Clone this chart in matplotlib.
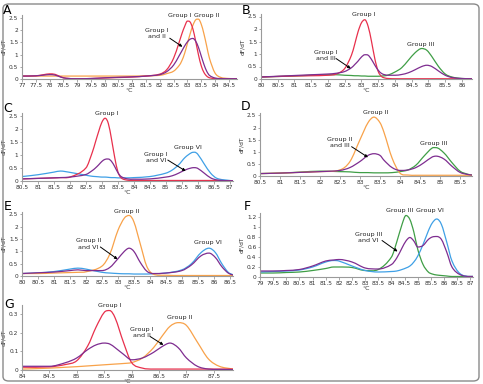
import matplotlib
matplotlib.use("Agg")
import matplotlib.pyplot as plt
from matplotlib.patches import FancyBboxPatch, PathPatch
from matplotlib.path import Path

# ---------------- data ----------------
# Panel A
a_x = [77, 77.5, 77.8, 78.0, 78.2, 78.4, 78.6, 79, 79.5, 80, 80.5, 81, 81.5, 82, 82.25, 82.5,
       82.7, 82.8, 82.9, 83.0, 83.1, 83.2, 83.3, 83.4, 83.5, 83.6, 83.7, 83.8, 84.0, 84.2, 84.5, 84.8]
a_red = [0.12, 0.13, 0.18, 0.21, 0.19, 0.09, 0.03, 0.01, 0.02, 0.04, 0.06, 0.08, 0.12, 0.2, 0.38, 0.85,
         1.5, 1.85, 2.15, 2.37, 2.33, 2.05, 1.55, 1.0, 0.55, 0.27, 0.12, 0.05, 0.02, 0.01, 0.01, 0.01]
a_orange = [0.12, 0.12, 0.12, 0.12, 0.12, 0.12, 0.12, 0.12, 0.12, 0.12, 0.12, 0.12, 0.13, 0.15, 0.22, 0.32,
            0.55, 0.75, 1.05, 1.45, 1.85, 2.2, 2.42, 2.45, 2.25, 1.85, 1.35, 0.85, 0.25, 0.07, 0.02, 0.01]
a_purple = [0.12, 0.13, 0.16, 0.18, 0.16, 0.08, 0.03, 0.01, 0.02, 0.05, 0.07, 0.09, 0.12, 0.18, 0.3, 0.57,
            0.95, 1.15, 1.35, 1.52, 1.63, 1.66, 1.55, 1.3, 0.95, 0.6, 0.32, 0.15, 0.04, 0.02, 0.01, 0.01]

# Panel B
b_x = [80, 80.5, 81, 81.5, 82, 82.25, 82.5, 82.7, 82.8, 82.9, 83.0, 83.1, 83.2, 83.3, 83.4, 83.5, 83.6,
       83.7, 83.8, 84.0, 84.2, 84.4, 84.6, 84.8, 84.95, 85.1, 85.3, 85.5, 85.7, 86.0, 86.3]
b_red = [0.08, 0.10, 0.12, 0.13, 0.15, 0.20, 0.42, 0.95, 1.40, 1.90, 2.25, 2.37, 2.10, 1.50, 0.80, 0.30, 0.10,
         0.04, 0.02, 0.01, 0.01, 0.01, 0.01, 0.01, 0.01, 0.01, 0.01, 0.01, 0.01, 0.01, 0.01]
b_purple = [0.08, 0.11, 0.14, 0.17, 0.20, 0.23, 0.30, 0.45, 0.58, 0.72, 0.88, 0.97, 0.95, 0.78, 0.55, 0.35, 0.22,
            0.17, 0.15, 0.15, 0.18, 0.25, 0.37, 0.50, 0.55, 0.50, 0.32, 0.15, 0.06, 0.02, 0.01]
b_green = [0.08, 0.10, 0.12, 0.15, 0.17, 0.17, 0.15, 0.14, 0.13, 0.13, 0.12, 0.12, 0.11, 0.11, 0.11, 0.11, 0.12,
           0.13, 0.16, 0.28, 0.45, 0.75, 1.05, 1.22, 1.15, 0.90, 0.50, 0.20, 0.08, 0.02, 0.01]

# Panel C
c_x = [80.5, 81, 81.5, 81.7, 82, 82.5, 82.7, 82.8, 82.9, 83.0, 83.1, 83.2, 83.3, 83.4, 83.5, 83.6, 83.8, 84,
       84.5, 85, 85.2, 85.4, 85.6, 85.8, 85.9, 86.0, 86.2, 86.4, 86.6, 87, 87.1]
c_red = [0.08, 0.1, 0.12, 0.13, 0.15, 0.5, 1.1, 1.5, 1.9, 2.25, 2.4, 2.2, 1.6, 0.9, 0.35, 0.12, 0.03, 0.02,
         0.02, 0.02, 0.02, 0.02, 0.02, 0.02, 0.02, 0.02, 0.02, 0.02, 0.02, 0.01, 0.01]
c_purple = [0.08, 0.1, 0.12, 0.13, 0.15, 0.25, 0.4, 0.5, 0.62, 0.75, 0.83, 0.84, 0.75, 0.55, 0.32, 0.17, 0.08, 0.07,
            0.08, 0.15, 0.2, 0.3, 0.42, 0.5, 0.51, 0.48, 0.3, 0.12, 0.04, 0.01, 0.01]
c_blue = [0.17, 0.24, 0.34, 0.38, 0.33, 0.22, 0.18, 0.17, 0.16, 0.15, 0.15, 0.14, 0.13, 0.13, 0.12, 0.12, 0.12, 0.13,
          0.17, 0.3, 0.42, 0.62, 0.9, 1.08, 1.1, 1.02, 0.65, 0.3, 0.1, 0.02, 0.01]

# Panel D
d_x = [80.5, 81, 81.5, 82, 82.5, 82.75, 83, 83.2, 83.35, 83.5, 83.6, 83.8, 84, 84.2, 84.4, 84.6, 84.8, 84.9,
       85.1, 85.3, 85.5, 85.7, 85.8]
d_orange = [0.1, 0.12, 0.15, 0.18, 0.25, 0.6, 1.5, 2.2, 2.43, 2.2, 1.8, 0.75, 0.12, 0.04, 0.03, 0.03, 0.03, 0.03,
            0.03, 0.03, 0.03, 0.03, 0.03]
d_purple = [0.1, 0.12, 0.15, 0.18, 0.23, 0.35, 0.6, 0.85, 0.92, 0.85, 0.65, 0.35, 0.23, 0.25, 0.35, 0.55, 0.78, 0.82,
            0.7, 0.4, 0.15, 0.06, 0.04]
d_green = [0.1, 0.12, 0.16, 0.2, 0.18, 0.17, 0.14, 0.14, 0.13, 0.13, 0.13, 0.14, 0.18, 0.25, 0.45, 0.82, 1.15, 1.17,
           0.95, 0.55, 0.2, 0.07, 0.04]

# Panel E
e_x = [80, 80.5, 81, 81.5, 81.75, 82, 82.5, 82.75, 83, 83.2, 83.35, 83.5, 83.7, 83.9, 84.1, 84.5, 85, 85.3,
       85.6, 85.85, 86.05, 86.25, 86.45, 86.6]
e_orange = [0.1, 0.1, 0.12, 0.14, 0.15, 0.17, 0.4, 0.9, 1.85, 2.35, 2.46, 2.2, 1.3, 0.4, 0.08, 0.03, 0.02, 0.02,
            0.02, 0.02, 0.02, 0.02, 0.02, 0.02]
e_purple = [0.1, 0.13, 0.16, 0.22, 0.25, 0.22, 0.22, 0.35, 0.7, 1.0, 1.13, 1.0, 0.55, 0.2, 0.1, 0.12, 0.22, 0.45,
            0.82, 0.93, 0.75, 0.38, 0.12, 0.04]
e_blue = [0.1, 0.13, 0.18, 0.28, 0.32, 0.28, 0.15, 0.12, 0.1, 0.09, 0.09, 0.08, 0.08, 0.08, 0.09, 0.12, 0.25, 0.5,
          0.95, 1.13, 0.95, 0.5, 0.15, 0.05]

# Panel F
f_x = [79, 79.5, 80, 80.5, 81, 81.5, 81.8, 82, 82.5, 83, 83.5, 84, 84.2, 84.4, 84.55, 84.7, 84.85, 85.0, 85.2,
       85.4, 85.55, 85.72, 85.9, 86.1, 86.3, 86.6, 87, 87.1]
f_green = [0.08, 0.08, 0.09, 0.1, 0.13, 0.17, 0.2, 0.2, 0.19, 0.13, 0.15, 0.4, 0.7, 1.05, 1.23, 1.15, 0.9, 0.55,
           0.25, 0.1, 0.06, 0.04, 0.03, 0.02, 0.01, 0.01, 0.01, 0.01]
f_blue = [0.1, 0.11, 0.12, 0.14, 0.2, 0.3, 0.33, 0.32, 0.22, 0.13, 0.1, 0.11, 0.12, 0.15, 0.18, 0.22, 0.3, 0.42,
          0.65, 0.92, 1.08, 1.16, 1.05, 0.7, 0.32, 0.07, 0.01, 0.01]
f_purple = [0.12, 0.12, 0.13, 0.15, 0.22, 0.32, 0.34, 0.35, 0.3, 0.18, 0.16, 0.25, 0.38, 0.58, 0.72, 0.79, 0.72,
            0.6, 0.63, 0.75, 0.8, 0.81, 0.75, 0.5, 0.2, 0.05, 0.01, 0.01]

# Panel G
g_x = [84, 84.5, 84.8, 85.0, 85.2, 85.35, 85.5, 85.6, 85.7, 85.85, 86.0, 86.2, 86.4, 86.55, 86.7, 86.85, 87.0,
       87.2, 87.4, 87.6, 87.85]
g_red = [0.015, 0.017, 0.03, 0.05, 0.13, 0.23, 0.31, 0.32, 0.28, 0.15, 0.04, 0.01, 0.005, 0.005, 0.005, 0.005,
         0.005, 0.005, 0.005, 0.005, 0.005]
g_purple = [0.02, 0.02, 0.04, 0.065, 0.11, 0.135, 0.145, 0.14, 0.12, 0.085, 0.055, 0.065, 0.095, 0.125, 0.145,
            0.12, 0.065, 0.02, 0.005, 0.003, 0.002]
g_orange = [0.005, 0.01, 0.015, 0.018, 0.022, 0.025, 0.028, 0.03, 0.032, 0.035, 0.04, 0.065, 0.12, 0.18, 0.235,
            0.255, 0.24, 0.15, 0.06, 0.02, 0.005]

RED = "#e8304c"
ORANGE = "#f8a24a"
PURPLE = "#7e2d90"
GREEN = "#3f9e46"
BLUE = "#3fa0e6"

W, H = 483, 384
fig = plt.figure(figsize=(W / 100, H / 100), dpi=100)

# outer rounded frame
fig.patches.append(FancyBboxPatch((3 / W, 3 / H), (W - 7) / W, (H - 7) / H,
                                  boxstyle="round,pad=0,rounding_size=0.012",
                                  transform=fig.transFigure, fill=False,
                                  edgecolor="#8a8a8a", linewidth=1.0))


def make_ax(l, t, r, b):
    return fig.add_axes([l / W, 1 - b / H, (r - l) / W, (b - t) / H])


def letter(s, cx, cy):
    fig.text(cx / W, 1 - cy / H, s, fontsize=9, ha="center", va="center", color="black")


def style(ax, xlim, ylim, xticks, yticks):
    ax.set_xlim(*xlim)
    ax.set_ylim(*ylim)
    ax.set_xticks(xticks)
    ax.set_xticklabels([("%g" % v) for v in xticks])
    ax.set_yticks(yticks)
    ax.set_yticklabels([("%g" % v) for v in yticks])
    for s in ("top", "right"):
        ax.spines[s].set_visible(False)
    for s in ("left", "bottom"):
        ax.spines[s].set_color("#9a9a9a")
        ax.spines[s].set_linewidth(0.8)
    ax.tick_params(axis="both", labelsize=4.2, colors="#9a9a9a", labelcolor="#333333",
                   length=1.8, width=0.6, pad=0.8)
    ax.set_xlabel("°C", fontsize=4.5, labelpad=0.5, color="#333333")
    ax.set_ylabel("dF/dT", fontsize=4.2, labelpad=2, color="#333333")
    ax.patch.set_alpha(0)


def smooth(ax, xs, ys, color):
    # cubic Bezier path through the read points (smooth rendering, no new data)
    n = len(xs)
    m = []
    for i in range(n):
        if i == 0:
            m.append((ys[1] - ys[0]) / (xs[1] - xs[0]))
        elif i == n - 1:
            m.append((ys[-1] - ys[-2]) / (xs[-1] - xs[-2]))
        else:
            d0 = (ys[i] - ys[i - 1]) / (xs[i] - xs[i - 1])
            d1 = (ys[i + 1] - ys[i]) / (xs[i + 1] - xs[i])
            if d0 * d1 <= 0:
                m.append(0.0)
            else:
                m.append((ys[i + 1] - ys[i - 1]) / (xs[i + 1] - xs[i - 1]))
    verts = [(xs[0], ys[0])]
    codes = [Path.MOVETO]
    for i in range(n - 1):
        h = xs[i + 1] - xs[i]
        verts += [(xs[i] + h / 3, ys[i] + m[i] * h / 3),
                  (xs[i + 1] - h / 3, ys[i + 1] - m[i + 1] * h / 3),
                  (xs[i + 1], ys[i + 1])]
        codes += [Path.CURVE4] * 3
    ax.add_patch(PathPatch(Path(verts, codes), fill=False, edgecolor=color, lw=0.9))


def label(ax, x, y, s):
    ax.text(x, y, s, fontsize=4.6, ha="center", va="center", color="#222222",
            clip_on=False, linespacing=1.3)


def arrow(ax, x0, y0, x1, y1):
    ax.annotate("", xy=(x1, y1), xytext=(x0, y0),
                arrowprops=dict(arrowstyle="-|>", color="black", lw=0.7,
                                mutation_scale=4, shrinkA=0, shrinkB=0))


# A
ax = make_ax(22, 15, 237, 79)
smooth(ax, a_x, a_orange, ORANGE)
smooth(ax, a_x, a_red, RED)
smooth(ax, a_x, a_purple, PURPLE)
style(ax, (77, 84.8), (0, 2.62), [77 + 0.5 * i for i in range(16)], [0, 0.5, 1, 1.5, 2, 2.5])
label(ax, 82.72, 2.62, "Group I")
label(ax, 83.69, 2.62, "Group II")
label(ax, 81.88, 1.87, "Group I\nand II")
arrow(ax, 82.36, 1.67, 82.82, 1.32)
letter("A", 7, 10)

# B
ax = make_ax(261, 14, 472, 79)
smooth(ax, b_x, b_green, GREEN)
smooth(ax, b_x, b_red, RED)
smooth(ax, b_x, b_purple, PURPLE)
style(ax, (80, 86.3), (0, 2.6), [80 + 0.5 * i for i in range(13)], [0, 0.5, 1, 1.5, 2, 2.5])
label(ax, 83.08, 2.57, "Group I")
label(ax, 84.78, 1.37, "Group III")
label(ax, 81.94, 0.95, "Group I\nand III")
arrow(ax, 82.24, 0.82, 82.68, 0.42)
letter("B", 246, 10)

# C
ax = make_ax(22, 113, 233, 181)
smooth(ax, c_x, c_blue, BLUE)
smooth(ax, c_x, c_red, RED)
smooth(ax, c_x, c_purple, PURPLE)
style(ax, (80.5, 87.1), (0, 2.6), [80.5 + 0.5 * i for i in range(14)], [0, 0.5, 1, 1.5, 2, 2.5])
label(ax, 83.15, 2.57, "Group I")
label(ax, 85.7, 1.29, "Group VI")
label(ax, 84.69, 0.89, "Group I\nand VI")
arrow(ax, 85.06, 0.8, 85.62, 0.38)
letter("C", 8, 108)

# D
ax = make_ax(260, 113, 472, 176)
smooth(ax, d_x, d_green, GREEN)
smooth(ax, d_x, d_orange, ORANGE)
smooth(ax, d_x, d_purple, PURPLE)
style(ax, (80.5, 85.8), (0, 2.6), [80.5 + 0.5 * i for i in range(11)], [0, 0.5, 1, 1.5, 2, 2.5])
label(ax, 83.38, 2.62, "Group II")
label(ax, 84.83, 1.34, "Group III")
label(ax, 82.5, 1.38, "Group II\nand III")
arrow(ax, 82.79, 1.21, 83.2, 0.77)
letter("D", 246, 107)

# E
ax = make_ax(22, 212, 233, 276)
smooth(ax, e_x, e_blue, BLUE)
smooth(ax, e_x, e_orange, ORANGE)
smooth(ax, e_x, e_purple, PURPLE)
style(ax, (80, 86.6), (0, 2.6), [80 + 0.5 * i for i in range(14)], [0, 0.5, 1, 1.5, 2, 2.5])
label(ax, 83.26, 2.64, "Group II")
label(ax, 85.83, 1.37, "Group VI")
label(ax, 82.08, 1.3, "Group II\nand VI")
arrow(ax, 82.45, 1.18, 82.99, 0.68)
letter("E", 8, 206)

# F
ax = make_ax(260, 213, 473, 277)
smooth(ax, f_x, f_green, GREEN)
smooth(ax, f_x, f_blue, BLUE)
smooth(ax, f_x, f_purple, PURPLE)
style(ax, (79, 87.1), (0, 1.28), [79 + 0.5 * i for i in range(17)], [0, 0.2, 0.4, 0.6, 0.8, 1, 1.2])
label(ax, 84.3, 1.33, "Group III")
label(ax, 85.48, 1.33, "Group VI")
label(ax, 83.13, 0.79, "Group III\nand VI")
arrow(ax, 83.64, 0.73, 84.23, 0.51)
letter("F", 247, 206)

# G
ax = make_ax(22, 305, 233, 370)
smooth(ax, g_x, g_orange, ORANGE)
smooth(ax, g_x, g_red, RED)
smooth(ax, g_x, g_purple, PURPLE)
style(ax, (84, 87.85), (0, 0.35), [84 + 0.5 * i for i in range(8)], [0, 0.1, 0.2, 0.3])
label(ax, 85.61, 0.345, "Group I")
label(ax, 86.87, 0.28, "Group II")
label(ax, 86.19, 0.2, "Group I\nand II")
arrow(ax, 86.34, 0.18, 86.58, 0.135)
letter("G", 9, 304)

fig.savefig("out.png", dpi=100)
